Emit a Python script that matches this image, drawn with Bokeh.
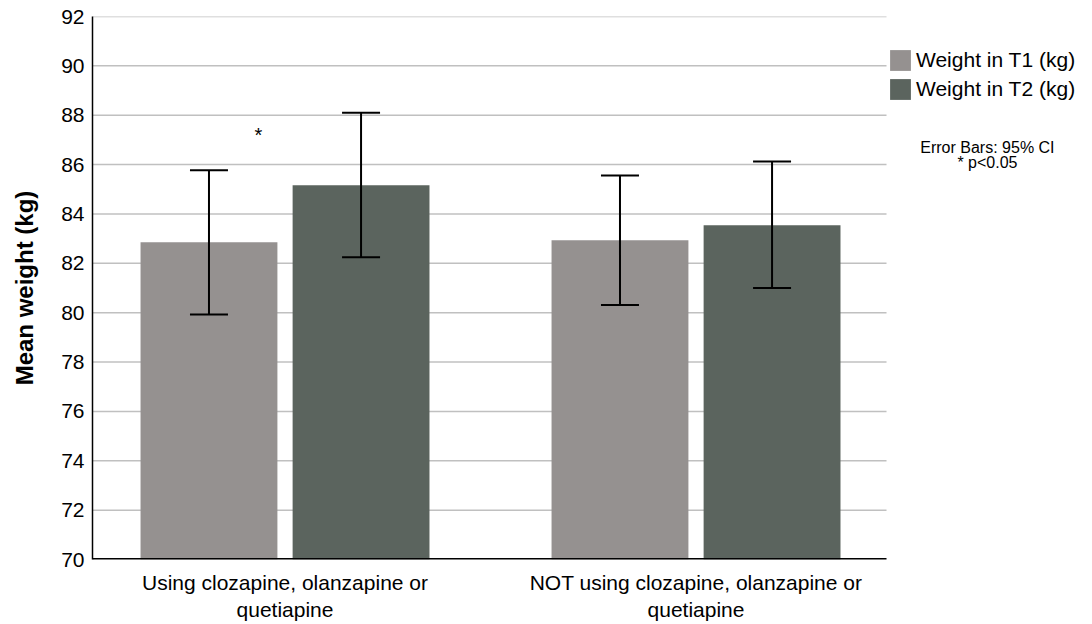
from bokeh.plotting import figure
from bokeh.models import (Range1d, FixedTicker, Whisker, TeeHead, ColumnDataSource,
                          Legend, LegendItem, Label)
from bokeh.embed import file_html
from bokeh.resources import INLINE

# ---- data ----
categories = ["Using clozapine, olanzapine or\nquetiapine",
              "NOT using clozapine, olanzapine or\nquetiapine"]
series_names = ["Weight in T1 (kg)", "Weight in T2 (kg)"]
t1_mean = [82.85, 82.93]
t1_lower = [79.93, 80.31]
t1_upper = [85.77, 85.56]
t2_mean = [85.16, 83.54]
t2_lower = [82.25, 81.00]
t2_upper = [88.10, 86.13]
y_ticks = list(range(70, 93, 2))
star_value = 87.18
note_lines = ["Error Bars: 95% CI", "* p<0.05"]

FONT = "Liberation Sans"
C1 = "#959190"
C2 = "#5b645e"

pos = [i + 1 for i in range(len(categories))]
off = 0.185
bw = 0.333

X0 = 0.5316          # left edge of the frame
X_VIS = 2.4635       # right edge of the visible plotting area
X1 = 2.9598          # right edge of the (wide) frame

p = figure(width=1090, height=624, output_backend="svg", toolbar_location=None,
           x_range=Range1d(X0, X1), y_range=Range1d(70, 92),
           min_border_left=92, min_border_right=0, min_border_top=16, min_border_bottom=65)
p.outline_line_color = None
p.background_fill_color = "white"
p.xgrid.grid_line_color = None
p.ygrid.grid_line_color = None

# gridlines limited to the visible plot area
grid_y = [t for t in y_ticks if t > 70]
p.segment(x0=[X0] * len(grid_y), x1=[X_VIS] * len(grid_y), y0=grid_y, y1=grid_y,
          line_color="#c0c0c0", line_width=1.5)

s1 = ColumnDataSource(dict(x=[x - off for x in pos], top=t1_mean, lower=t1_lower, upper=t1_upper))
s2 = ColumnDataSource(dict(x=[x + off for x in pos], top=t2_mean, lower=t2_lower, upper=t2_upper))

r1 = p.vbar(x="x", top="top", bottom=70, width=bw, source=s1, fill_color=C1, line_color=None)
r2 = p.vbar(x="x", top="top", bottom=70, width=bw, source=s2, fill_color=C2, line_color=None)

# x axis line (drawn as a segment, half of it clipped by the frame)
p.segment(x0=[X0], x1=[X_VIS], y0=[70], y1=[70], line_color="black", line_width=3)

for s in (s1, s2):
    w = Whisker(base="x", upper="upper", lower="lower", source=s, line_color="black", line_width=2,
                level="overlay",
                upper_head=TeeHead(size=38, line_width=2, line_color="black"),
                lower_head=TeeHead(size=38, line_width=2, line_color="black"))
    p.add_layout(w)

# axes
p.xaxis.ticker = FixedTicker(ticks=pos)
p.xaxis.major_label_overrides = {x: c for x, c in zip(pos, categories)}
p.xaxis.major_tick_out = 0
p.xaxis.major_tick_in = 0
p.xaxis.minor_tick_out = 0
p.xaxis.minor_tick_in = 0
p.xaxis.major_label_standoff = 11
p.xaxis.major_label_text_font = FONT
p.xaxis.major_label_text_font_size = "21px"
p.xaxis.major_label_text_color = "black"
p.xaxis.axis_line_color = None

p.yaxis.ticker = FixedTicker(ticks=y_ticks)
p.yaxis.major_tick_out = 0
p.yaxis.major_tick_in = 0
p.yaxis.minor_tick_out = 0
p.yaxis.minor_tick_in = 0
p.yaxis.major_label_standoff = 8
p.yaxis.major_label_text_font = FONT
p.yaxis.major_label_text_font_size = "21px"
p.yaxis.major_label_text_color = "black"
p.yaxis.axis_line_color = "black"
p.yaxis.axis_line_width = 1.5
p.yaxis.axis_label = "Mean weight (kg)"
p.yaxis.axis_label_text_font = FONT
p.yaxis.axis_label_text_font_style = "bold"
p.yaxis.axis_label_text_font_size = "24px"
p.yaxis.axis_label_text_color = "black"
p.yaxis.axis_label_standoff = 20

legend = Legend(items=[LegendItem(label=series_names[0], renderers=[r1]),
                       LegendItem(label=series_names[1], renderers=[r2])],
                location=(795, 457), glyph_width=26, glyph_height=26, label_standoff=3,
                spacing=3, padding=0, margin=0, border_line_alpha=0, background_fill_alpha=0,
                label_text_font=FONT, label_text_font_size="21px", label_text_color="black",
                label_height=26)
p.add_layout(legend)

p.add_layout(Label(x=0.9355, y=star_value, text="*", text_font=FONT, text_font_size="20px",
                   text_align="center", text_baseline="alphabetic", text_color="black"))
p.add_layout(Label(x=2.709, y=86.68, text=note_lines[0], text_font=FONT, text_font_size="16px",
                   text_align="center", text_baseline="alphabetic", text_color="black"))
p.add_layout(Label(x=2.709, y=86.07, text=note_lines[1], text_font=FONT, text_font_size="16px",
                   text_align="center", text_baseline="alphabetic", text_color="black"))

open("out.html", "w").write(file_html(p, INLINE))
